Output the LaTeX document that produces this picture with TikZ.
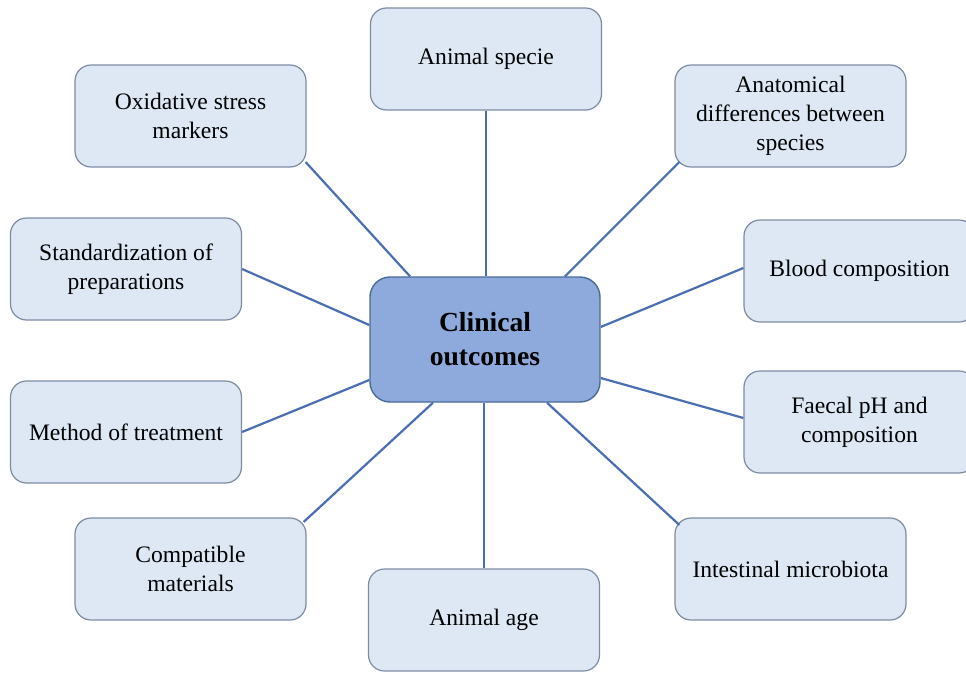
\documentclass[tikz,border=0pt]{standalone}
\usepackage{fontspec}
\setmainfont{Liberation Serif}
\usetikzlibrary{calc}
\definecolor{boxfill}{HTML}{DEE8F5}
\definecolor{boxdraw}{HTML}{7D8CA3}
\definecolor{cfill}{HTML}{8EAADC}
\definecolor{cdraw}{HTML}{4A6A9A}
\definecolor{linkc}{HTML}{4A6EB2}
\begin{document}
\begin{tikzpicture}[x=0.5pt,y=-0.5pt,
  leaf/.style={draw=boxdraw,fill=boxfill,line width=0.6pt,rounded corners=8pt,
    minimum width=115.5pt,minimum height=51pt,align=center,inner sep=2pt,
    font=\fontsize{11.8}{14.6}\selectfont},
  hub/.style={draw=cdraw,fill=cfill,line width=0.7pt,rounded corners=10pt,
    minimum width=115pt,minimum height=62.5pt,align=center,
    font=\fontsize{13.8}{17}\selectfont\bfseries},
  link/.style={draw=linkc,line width=1.1pt}]
\useasboundingbox (0,0) rectangle (966,675);
\clip (0,0) rectangle (966,675);
\node[hub] (C) at (485,339.5) {Clinical\\outcomes};
\node[leaf] (spec) at (486,59) {Animal specie};
\node[leaf] (ox) at (190.5,116) {Oxidative stress\\markers};
\node[leaf] (ana) at (790.5,116) {Anatomical\\differences between\\species};
\node[leaf] (std) at (126,269) {Standardization of\\preparations};
\node[leaf] (blood) at (859.5,271) {Blood composition};
\node[leaf] (meth) at (126,432) {Method of treatment};
\node[leaf] (faec) at (859.5,422) {Faecal pH and\\composition};
\node[leaf] (comp) at (190.5,569) {Compatible\\materials};
\node[leaf] (age) at (484,620) {Animal age};
\node[leaf] (intes) at (790.5,569) {Intestinal microbiota};
\draw[link] (spec.south) -- (spec.south |- C.north);
\draw[link] (age.north) -- (age.north |- C.south);
\draw[link] ($(ox.east)+(-1,46)$) -- ($(C.north)+(-75,0)$);
\draw[link] ($(ana.west)+(5,46)$) -- ($(C.north)+(80,0)$);
\draw[link] (std.east) -- ($(C.west)+(0,-14.5)$);
\draw[link] ($(blood.west)+(0,-3)$) -- ($(C.east)+(0,-12.5)$);
\draw[link] (meth.east) -- ($(C.west)+(0,40.5)$);
\draw[link] ($(faec.west)+(0,-4)$) -- ($(C.east)+(0,38.5)$);
\draw[link] ($(comp.east)+(-3,-47)$) -- ($(C.south)+(-52,0)$);
\draw[link] ($(intes.west)+(5,-44)$) -- ($(C.south)+(62,0)$);
\end{tikzpicture}
\end{document}
